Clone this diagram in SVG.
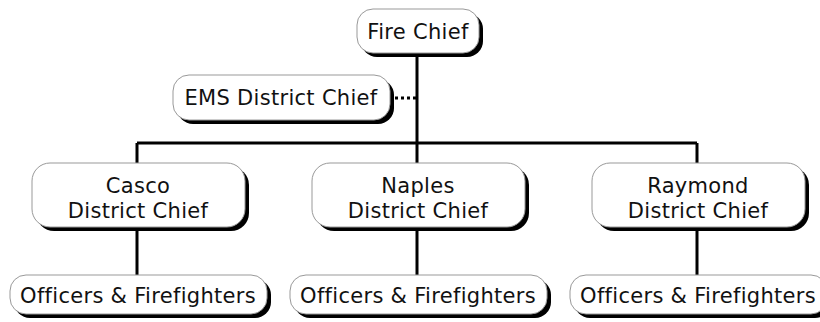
<svg xmlns="http://www.w3.org/2000/svg" width="820" height="322" viewBox="0 0 820 322">
<defs>
<style>
.sh{fill:#000}
.bx{fill:#fff;stroke:#999;stroke-width:1}
.t{font-family:"DejaVu Sans",sans-serif;font-size:21px;letter-spacing:0.3px;fill:#111;text-anchor:middle}
.ln{stroke:#000;stroke-width:3;fill:none}
.dot{stroke:#000;stroke-width:3;fill:none;stroke-dasharray:3 3}
</style>
</defs>
<rect width="820" height="322" fill="#fff"/>
<g id="connectors">
<path class="ln" d="M417 55V143M137 143H697M137 143V165M417 143V165M697 143V165M137 230V277M417 230V277M697 230V277"/>
<path class="dot" d="M395 98H417"/>
</g>
<g id="fire-chief">
<rect class="sh" x="361" y="13" width="122" height="44" rx="16"/>
<rect class="bx" x="357" y="9" width="122" height="44" rx="16"/>
<text class="t" x="418" y="39">Fire Chief</text>
</g>
<g id="ems">
<rect class="sh" x="177" y="79" width="217" height="45" rx="16"/>
<rect class="bx" x="173" y="75" width="217" height="45" rx="16"/>
<text class="t" x="281" y="105">EMS District Chief</text>
</g>
<g id="casco">
<rect class="sh" x="36" y="167" width="213" height="64" rx="18"/>
<rect class="bx" x="32" y="163" width="213" height="64" rx="18"/>
<text class="t" x="138" y="193">Casco</text>
<text class="t" x="138" y="218">District Chief</text>
</g>
<g id="naples">
<rect class="sh" x="316" y="167" width="213" height="64" rx="18"/>
<rect class="bx" x="312" y="163" width="213" height="64" rx="18"/>
<text class="t" x="418" y="193">Naples</text>
<text class="t" x="418" y="218">District Chief</text>
</g>
<g id="raymond">
<rect class="sh" x="596" y="167" width="213" height="64" rx="18"/>
<rect class="bx" x="592" y="163" width="213" height="64" rx="18"/>
<text class="t" x="698" y="193">Raymond</text>
<text class="t" x="698" y="218">District Chief</text>
</g>
<g id="officers-casco">
<rect class="sh" x="14" y="279" width="257" height="39" rx="16"/>
<rect class="bx" x="10" y="275" width="257" height="39" rx="16"/>
<text class="t" x="138" y="303">Officers &amp; Firefighters</text>
</g>
<g id="officers-naples">
<rect class="sh" x="294" y="279" width="257" height="39" rx="16"/>
<rect class="bx" x="290" y="275" width="257" height="39" rx="16"/>
<text class="t" x="418" y="303">Officers &amp; Firefighters</text>
</g>
<g id="officers-raymond">
<rect class="sh" x="574" y="279" width="257" height="39" rx="16"/>
<rect class="bx" x="570" y="275" width="257" height="39" rx="16"/>
<text class="t" x="698" y="303">Officers &amp; Firefighters</text>
</g>
</svg>
